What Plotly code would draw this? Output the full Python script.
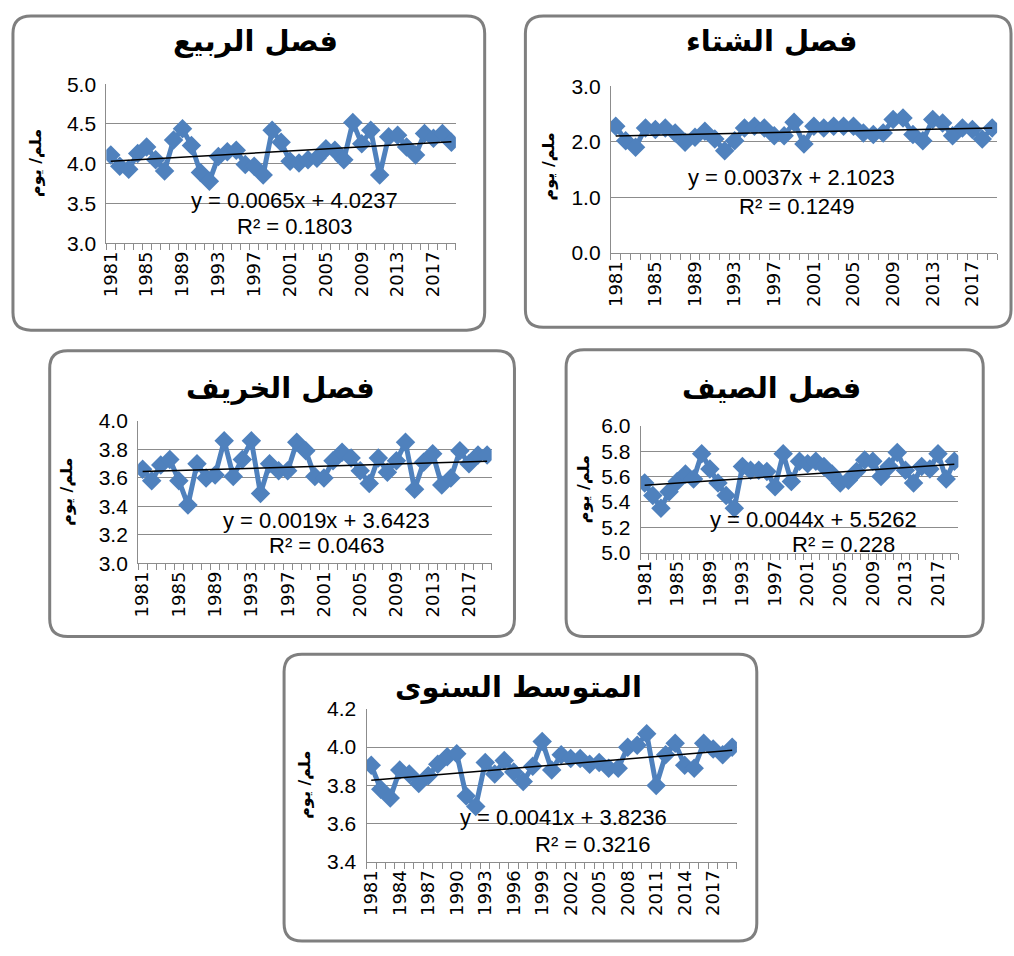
import plotly.graph_objects as go

years = list(range(1981, 2020))

spring = [4.11, 3.97, 3.93, 4.13, 4.21, 4.05, 3.91, 4.30, 4.44, 4.23,
          3.89, 3.78, 4.09, 4.15, 4.17, 3.99, 3.97, 3.86, 4.42, 4.27,
          4.03, 4.01, 4.05, 4.07, 4.19, 4.17, 4.05, 4.52, 4.25, 4.42,
          3.86, 4.34, 4.36, 4.21, 4.11, 4.38, 4.32, 4.38, 4.27]
winter = [2.28, 2.02, 1.90, 2.25, 2.22, 2.25, 2.16, 1.99, 2.08, 2.19,
          2.05, 1.84, 2.02, 2.25, 2.28, 2.25, 2.11, 2.11, 2.35, 1.96,
          2.28, 2.25, 2.28, 2.28, 2.28, 2.16, 2.13, 2.16, 2.40, 2.43,
          2.13, 2.02, 2.40, 2.34, 2.11, 2.25, 2.22, 2.05, 2.25]
autumn = [3.66, 3.58, 3.69, 3.73, 3.58, 3.41, 3.70, 3.60, 3.62, 3.86,
          3.61, 3.73, 3.86, 3.49, 3.70, 3.65, 3.65, 3.85, 3.79, 3.61,
          3.60, 3.72, 3.78, 3.74, 3.65, 3.56, 3.74, 3.64, 3.72, 3.85,
          3.52, 3.71, 3.77, 3.55, 3.60, 3.79, 3.70, 3.76, 3.76]
summer = [5.55, 5.45, 5.35, 5.48, 5.56, 5.62, 5.58, 5.78, 5.66, 5.55,
          5.45, 5.35, 5.68, 5.65, 5.65, 5.64, 5.52, 5.78, 5.56, 5.72,
          5.70, 5.72, 5.68, 5.62, 5.55, 5.57, 5.64, 5.73, 5.72, 5.60,
          5.68, 5.79, 5.65, 5.55, 5.68, 5.66, 5.78, 5.58, 5.72]
annual = [3.905, 3.78, 3.735, 3.88, 3.86, 3.81, 3.85, 3.91, 3.95, 3.965,
          3.745, 3.69, 3.92, 3.86, 3.93, 3.87, 3.82, 3.90, 4.03, 3.88,
          3.96, 3.94, 3.94, 3.91, 3.92, 3.89, 3.89, 4.00, 4.01, 4.07,
          3.80, 3.96, 4.02, 3.905, 3.89, 4.02, 3.99, 3.96, 4.00]

titles = ["فصل الربيع", "فصل الشتاء", "فصل الخريف", "فصل الصيف", "المتوسط السنوى"]
slopes = [0.0065, 0.0037, 0.0019, 0.0044, 0.0041]
intercepts = [4.0237, 2.1023, 3.6423, 5.5262, 3.8236]
r2_labels = ["0.1803", "0.1249", "0.0463", "0.228", "0.3216"]
y_ranges = [(3.0, 5.0), (0.0, 3.0), (3.0, 4.0), (5.0, 6.0), (3.4, 4.2)]
y_dticks = [0.5, 1.0, 0.2, 0.2, 0.2]
x_label_steps = [4, 4, 4, 4, 3]
yaxis_title = "ملم/ يوم"

series = [spring, winter, autumn, summer, annual]

W, H = 1014, 956
# plot areas in pixels: (left, right, top, bottom)
plot_px = [(100, 452, 74, 237), (608, 997, 76, 247), (132, 488, 419, 565),
           (638, 958, 424, 554), (362, 735, 714, 871)]
box_px = [(6, 481, 4, 326), (522, 1011, 4, 323), (43, 511, 347, 640),
          (563, 983, 346, 640), (279, 755, 658, 952)]
title_px = [(250, 30), (770, 30), (275, 385), (770, 385), (515, 692)]
ytitle_px = [(28, 155), (545, 158), (60, 492), (580, 489), (300, 792)]
eq_px = [(289, 193, 290, 220), (790, 170, 795, 199), (322, 521, 322, 547),
         (812, 520, 842, 546), (560, 825, 590, 853)]

BLUE = "#4F81BD"
GRID = "#8C8C8C"

def px(x):
    return x / W

def py(y):
    return 1 - y / H

fig = go.Figure()
shapes = []
annotations = []

for i, vals in enumerate(series):
    n = i + 1
    xa = "x" if n == 1 else f"x{n}"
    ya = "y" if n == 1 else f"y{n}"
    l, r, t, b = plot_px[i]
    fig.add_trace(go.Scatter(
        x=years, y=vals, mode="lines+markers", xaxis=xa, yaxis=ya,
        line=dict(color=BLUE, width=5),
        marker=dict(symbol="diamond", size=15, color=BLUE),
        showlegend=False, hoverinfo="skip"))
    trend_y = [slopes[i] * (yr - years[0] + 1) + intercepts[i] for yr in years]
    fig.add_trace(go.Scatter(
        x=years, y=trend_y, mode="lines", xaxis=xa, yaxis=ya,
        line=dict(color="#000000", width=1.5),
        showlegend=False, hoverinfo="skip"))

    step = x_label_steps[i]
    tickvals = years[::step]
    xkey = "xaxis" if n == 1 else f"xaxis{n}"
    ykey = "yaxis" if n == 1 else f"yaxis{n}"
    fig.layout[xkey] = dict(
        domain=[px(l), px(r)], anchor=ya, range=[years[0] - 0.5, years[-1] + 0.5],
        tickmode="array", tickvals=tickvals, ticktext=[str(v) for v in tickvals],
        tickangle=-90, ticks="", showgrid=False, zeroline=False,
        showline=True, linecolor=GRID, linewidth=1,
        tickfont=dict(family="DejaVu Sans", size=18, color="#000000"),
        minor=dict(ticks="outside", tick0=0.5, dtick=1, ticklen=6,
                   tickcolor=GRID, tickwidth=1, showgrid=False),
        fixedrange=True)
    y0, y1 = y_ranges[i]
    fig.layout[ykey] = dict(
        domain=[py(b), py(t)], anchor=xa, range=[y0, y1],
        tick0=y0, dtick=y_dticks[i], tickformat=".1f",
        showgrid=True, gridcolor=GRID, gridwidth=1, zeroline=False,
        showline=True, linecolor=GRID, linewidth=1, ticks="",
        ticklabelstandoff=5,
        tickfont=dict(family="Liberation Sans", size=21, color="#000000"),
        fixedrange=True)

    # rounded box
    bl, br, bt, bb = box_px[i]
    rad = 18
    path = (f"M {px(bl + rad)} {py(bt)} L {px(br - rad)} {py(bt)} "
            f"Q {px(br)} {py(bt)} {px(br)} {py(bt + rad)} "
            f"L {px(br)} {py(bb - rad)} Q {px(br)} {py(bb)} {px(br - rad)} {py(bb)} "
            f"L {px(bl + rad)} {py(bb)} Q {px(bl)} {py(bb)} {px(bl)} {py(bb - rad)} "
            f"L {px(bl)} {py(bt + rad)} Q {px(bl)} {py(bt)} {px(bl + rad)} {py(bt)} Z")
    shapes.append(dict(type="path", xref="paper", yref="paper", path=path,
                       line=dict(color="#7F7F7F", width=3), layer="below"))

    tx, ty = title_px[i]
    annotations.append(dict(text=f"<b>{titles[i]}</b>", x=px(tx), y=py(ty),
                            xref="paper", yref="paper", showarrow=False,
                            xanchor="center", yanchor="middle",
                            font=dict(family="DejaVu Sans", size=29, color="#000000")))
    yx, yy = ytitle_px[i]
    annotations.append(dict(text=f"<b>{yaxis_title}</b>", x=px(yx), y=py(yy),
                            xref="paper", yref="paper", showarrow=False,
                            textangle=-90, xanchor="center", yanchor="middle",
                            font=dict(family="DejaVu Sans", size=16, color="#000000")))
    ex, ey, rx, ry = eq_px[i]
    annotations.append(dict(text=f"y = {slopes[i]:.4f}x + {intercepts[i]:.4f}",
                            x=px(ex), y=py(ey), xref="paper", yref="paper",
                            showarrow=False, xanchor="center", yanchor="middle",
                            font=dict(family="Liberation Sans", size=22, color="#000000")))
    annotations.append(dict(text=f"R² = {r2_labels[i]}",
                            x=px(rx), y=py(ry), xref="paper", yref="paper",
                            showarrow=False, xanchor="center", yanchor="middle",
                            font=dict(family="Liberation Sans", size=22, color="#000000")))

fig.update_layout(width=W, height=H, margin=dict(l=0, r=0, t=0, b=0),
                  paper_bgcolor="white", plot_bgcolor="rgba(0,0,0,0)",
                  shapes=shapes, annotations=annotations, showlegend=False)

fig.write_html("out.html", config={"displayModeBar": False},
               post_script="document.body.style.margin='0';document.body.style.overflow='hidden';")
